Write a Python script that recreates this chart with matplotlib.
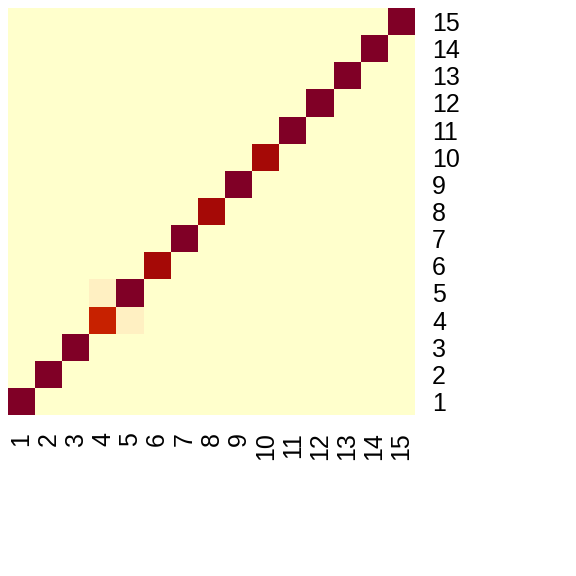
import numpy as np
import matplotlib
matplotlib.use("Agg")
import matplotlib.pyplot as plt
from matplotlib.colors import LinearSegmentedColormap

plt.rcParams['font.family'] = ['Liberation Sans', 'DejaVu Sans']

labels = [str(i) for i in range(1, 16)]

# diagonal values (row i, col i), 1-based index order
diag = [1.0, 1.0, 1.0, 0.75, 1.0, 0.9, 1.0, 0.9, 1.0, 0.9, 1.0, 1.0, 1.0, 1.0, 1.0]
# off-diagonal non-zero cells: (row, col, value), 1-based
extra = [(5, 4, 0.1), (4, 5, 0.1)]

mat = np.zeros((15, 15))
for i, v in enumerate(diag):
    mat[i, i] = v
for r, c, v in extra:
    mat[r - 1, c - 1] = v

cmap = LinearSegmentedColormap.from_list(
    "heat",
    [(0.0, "#FFFFCC"), (0.1, "#FFF0C2"), (0.75, "#C82200"),
     (0.9, "#A60A06"), (1.0, "#800026")])

fig = plt.figure(figsize=(8, 8), dpi=72)
ax = fig.add_axes([8 / 576, 1 - 415 / 576, 407 / 576, 407 / 576])
ax.imshow(mat, cmap=cmap, vmin=0, vmax=1, origin='lower',
          aspect='auto', interpolation='nearest')

ax.set_xticks(range(15))
ax.set_xticklabels(labels, rotation=90, fontsize=25)
ax.set_yticks(range(15))
ax.set_yticklabels(labels, fontsize=25)
ax.yaxis.tick_right()
ax.tick_params(length=0, pad=17)
for s in ax.spines.values():
    s.set_visible(False)

fig.savefig("out.png", dpi=72)
